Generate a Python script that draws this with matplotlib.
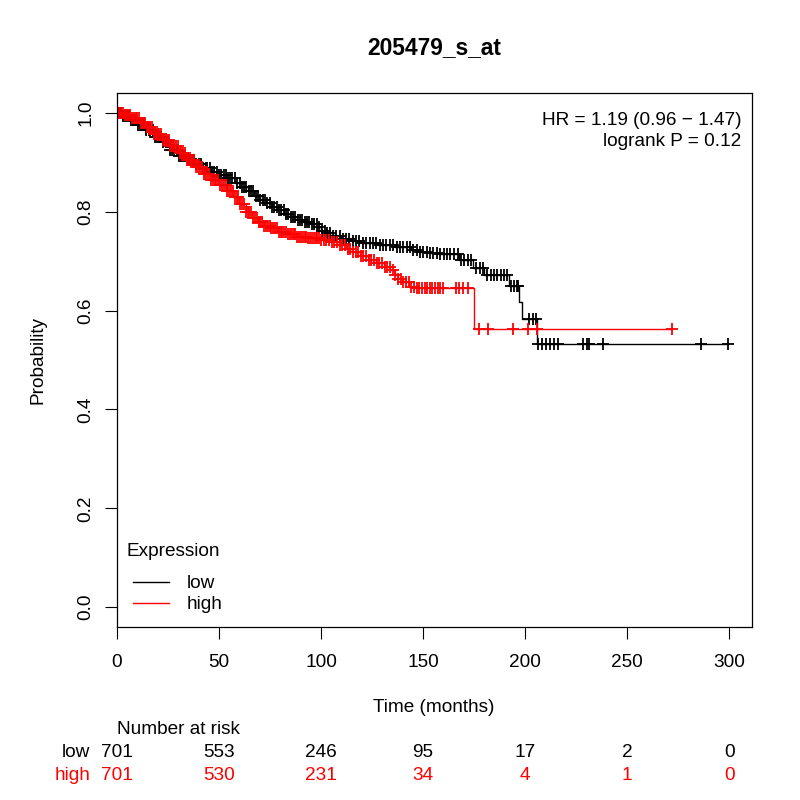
import numpy as np
import matplotlib
matplotlib.use("Agg")
import matplotlib.pyplot as plt
from matplotlib.transforms import blended_transform_factory

plt.rcParams['font.family'] = ['Liberation Sans', 'DejaVu Sans']
plt.rcParams['font.size'] = 13.7

title = "205479_s_at"
groups = ["low", "high"]
colors = ["black", "red"]

# survival steps (time of drop, survival after drop)
low_time = [0, 2.5, 6, 10, 14, 18, 22, 26, 30, 34, 38, 42, 46, 50, 54, 58, 61, 64, 67, 70,
            73, 76, 79, 82, 85, 88, 91, 95, 98, 100, 103, 106, 110, 115, 120, 128, 136, 144,
            148, 153, 158, 167.5, 174.5, 180, 192, 197, 198.5, 205.7]
low_surv = [1.0, 0.993, 0.985, 0.975, 0.965, 0.952, 0.940, 0.925, 0.912, 0.904, 0.897, 0.889,
            0.880, 0.874, 0.869, 0.858, 0.849, 0.841, 0.832, 0.824, 0.817, 0.810, 0.803, 0.796,
            0.789, 0.784, 0.780, 0.776, 0.768, 0.761, 0.756, 0.750, 0.745, 0.741, 0.737, 0.732,
            0.728, 0.722, 0.719, 0.716, 0.714, 0.703, 0.687, 0.672, 0.649, 0.617, 0.582, 0.533]
low_censor = [0.4, 1.3, 2.2, 3.0, 4.1, 5.0, 5.9, 7.1, 8.0, 9.2, 10.1, 11.3, 12.2, 13.4, 14.3,
              15.5, 16.4, 17.6, 18.5, 19.7, 20.6, 21.8, 22.7, 23.9, 24.8, 26.0, 27.1, 28.0,
              29.3, 30.2, 31.4, 32.5, 33.4, 34.7, 35.6, 36.8, 37.9, 38.8, 40.0, 41.1, 42.2,
              43.4, 44.3, 45.5, 46.6, 47.7, 48.9, 50.0, 51.1, 52.3, 53.2, 54.4, 55.6, 56.5,
              57.8, 58.9, 60.1, 61.2, 62.4, 63.3, 64.6, 65.7, 66.8, 68.0, 69.1, 70.3, 71.4,
              72.5, 73.7, 74.8, 76.0, 77.1, 78.3, 79.4, 80.5, 81.7, 82.8, 84.0, 85.1, 86.3,
              87.4, 88.6, 89.7, 90.9, 92.0, 93.2, 94.3, 95.5, 96.6, 97.8, 99.0, 100.4, 101.7,
              103.1, 104.6, 106.0, 107.5, 109.1, 110.6, 112.2, 113.9, 115.5, 117.2, 118.8,
              120.5, 122.1, 123.8, 125.4, 127.1, 128.7, 130.4, 132.0, 133.7, 135.3, 137.0,
              138.6, 140.3, 141.9, 143.6, 145.2, 146.9, 148.5, 150.2, 151.8, 153.5, 155.1,
              156.8, 158.4, 160.1, 161.7, 163.4, 165.0, 166.9, 168.6, 170.3, 172.0, 173.6,
              176.0, 177.8, 179.2, 181.5, 183.1, 184.7, 186.4, 188.0, 189.5, 191.0, 193.2,
              194.5, 195.8, 196.6, 201.8, 204.0, 205.2, 206.4, 208.2, 210.2, 212.3, 214.4,
              216.3, 228.3, 230.2, 231.5, 238.4, 286.3, 299.6]

high_time = [0, 3, 7, 11, 14, 18, 22, 26, 30, 34, 38, 42, 46, 50, 54, 57, 60, 63, 66, 69, 72,
             75, 79, 83, 88, 93, 100, 105, 109, 112, 115, 119, 123, 127, 131, 134, 136, 137.5,
             140, 143, 146, 175.2]
high_surv = [1.0, 0.995, 0.990, 0.980, 0.971, 0.958, 0.945, 0.932, 0.918, 0.904, 0.890, 0.877,
             0.864, 0.853, 0.842, 0.830, 0.815, 0.800, 0.788, 0.779, 0.772, 0.766, 0.759, 0.754,
             0.749, 0.746, 0.743, 0.739, 0.733, 0.725, 0.718, 0.711, 0.703, 0.697, 0.689, 0.682,
             0.672, 0.664, 0.657, 0.648, 0.645, 0.562]
high_censor = [0.3, 1.1, 2.0, 2.8, 3.7, 4.6, 5.5, 6.4, 7.3, 8.2, 9.1, 10.0, 10.9, 11.8, 12.7,
               13.6, 14.5, 15.4, 16.3, 17.2, 18.1, 19.0, 19.9, 20.8, 21.7, 22.6, 23.5, 24.4,
               25.3, 26.2, 27.1, 28.0, 28.9, 29.8, 30.7, 31.6, 32.5, 33.4, 34.3, 35.2, 36.1,
               37.0, 37.9, 38.8, 39.7, 40.6, 41.5, 42.4, 43.3, 44.2, 45.1, 46.0, 46.9, 47.8,
               48.7, 49.6, 50.5, 51.4, 52.3, 53.2, 54.1, 55.0, 55.9, 56.8, 57.7, 58.6, 59.5,
               60.4, 61.3, 62.2, 63.1, 64.0, 64.9, 65.8, 66.7, 67.6, 68.5, 69.4, 70.3, 71.2,
               72.1, 73.0, 73.9, 74.8, 75.7, 76.6, 77.5, 78.4, 79.3, 80.2, 81.1, 82.0, 82.9,
               83.8, 84.7, 85.6, 86.5, 87.4, 88.3, 89.2, 90.1, 91.0, 91.9, 92.8, 93.7, 94.6,
               95.5, 96.4, 97.3, 98.2, 99.1, 100.0, 101.3, 102.6, 103.9, 105.2, 106.5, 107.8,
               109.1, 110.4, 111.7, 113.0, 114.3, 115.6, 116.9, 118.2, 119.5, 120.8, 122.1,
               123.4, 124.7, 126.0, 127.3, 128.6, 129.9, 131.2, 132.5, 133.8, 135.1, 136.4,
               137.7, 139.0, 140.3, 141.6, 142.9, 144.2, 145.5, 146.8, 148.1, 149.4, 150.7,
               152.0, 153.3, 154.6, 155.9, 157.2, 158.5, 159.8, 166.0, 167.8, 169.5, 172.2,
               177.6, 181.7, 194.3, 201.6, 205.7, 272.0]

risk_times = [0, 50, 100, 150, 200, 250, 300]
risk_low = [701, 553, 246, 95, 17, 2, 0]
risk_high = [701, 530, 231, 34, 4, 1, 0]

hr_text = "HR = 1.19 (0.96 \u2212 1.47)"
p_text = "logrank P = 0.12"


def surv_at(times, surv, t):
    idx = np.searchsorted(times, t, side='right') - 1
    return np.asarray(surv)[idx]


fig = plt.figure(figsize=(8, 8), dpi=100)
ax = fig.add_axes([0.14625, 0.21625, 0.79375, 0.6675])

curves = [(low_time, low_surv, low_censor), (high_time, high_surv, high_censor)]
handles = []
for (times, surv, cens), name, col in zip(curves, groups, colors):
    t = list(times) + [max(cens)]
    s = list(surv) + [surv[-1]]
    ln, = ax.step(t, s, where='post', color=col, lw=1.0, label=name)
    handles.append(ln)
    ax.plot(cens, surv_at(times, surv, cens), ls='none', marker='+',
            color=col, ms=8.5, mew=1.3)

ax.set_xlim(0, 311.2)
ax.set_ylim(-0.04, 1.04)
ax.set_xticks(risk_times)
yt = [0.0, 0.2, 0.4, 0.6, 0.8, 1.0]
ax.set_yticks(yt)
ax.set_yticklabels([f"{v:.1f}" for v in yt], rotation=90, va='center')
ax.tick_params(axis='both', length=8.5, width=0.8, labelsize=13.7)
ax.tick_params(axis='x', pad=11)
ax.tick_params(axis='y', pad=8)
for sp in ax.spines.values():
    sp.set_linewidth(0.9)

ax.text(0.983, 0.949, hr_text, transform=ax.transAxes, ha='right', va='center')
ax.text(0.983, 0.909, p_text, transform=ax.transAxes, ha='right', va='center')

# legend: title drawn on its own, entries below it
ax.text(0.0153, 0.141, "Expression", transform=ax.transAxes, ha='left', va='center')
leg = ax.legend(handles=handles, loc='lower left', bbox_to_anchor=(0.0252, 0.0255),
                frameon=False, handlelength=1.87, handletextpad=0.94, labelspacing=0.2,
                borderaxespad=0, borderpad=0, fontsize=13.7)

fig.text(434 / 800, 1 - 48 / 800, title, ha='center', va='center',
         fontsize=16.4, fontweight='bold')
fig.text(434 / 800, 1 - 707 / 800, "Time (months)", ha='center', va='center')
fig.text(38 / 800, 0.55, "Probability", ha='center', va='center', rotation=90)

# number at risk table
tr = blended_transform_factory(ax.transData, fig.transFigure)
fig.text(0, 1 - 730 / 800, "Number at risk", transform=tr, ha='left', va='center')
rows = [(risk_low, 1 - 752.7 / 800), (risk_high, 1 - 775 / 800)]
for (vals, yy), name, col in zip(rows, groups, colors):
    fig.text(90 / 800, yy, name, ha='right', va='center', color=col)
    for t, v in zip(risk_times, vals):
        ax.text(t, yy, str(v), transform=tr, ha='center', va='center', color=col,
                clip_on=False)

fig.savefig("out.png", dpi=100)
